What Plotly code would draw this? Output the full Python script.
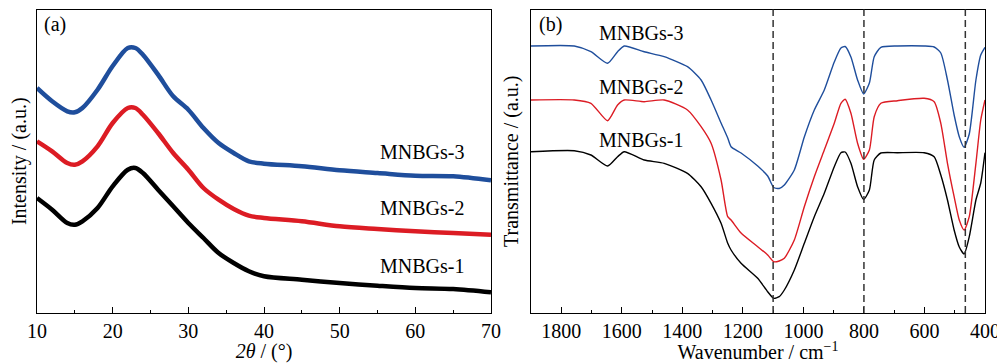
import plotly.graph_objects as go

# ---------------- (a) XRD ----------------
two_theta = [10, 12, 14, 15, 16, 18, 20, 22, 23, 24, 26, 28, 30, 32, 34, 36, 38, 40, 45, 50, 55, 60, 65, 70]
xrd_mnbgs3 = [225, 211.7, 201.7, 200.7, 205, 223.3, 247, 265, 265, 258.3, 238.3, 216.7, 203.3, 185, 170, 160, 151.7, 149.3, 146.7, 142.7, 140, 137.3, 136.7, 132.7]
xrd_mnbgs2 = [171.7, 161.7, 150, 148.3, 151.7, 166.7, 190, 205, 205, 198.3, 180, 160, 143.3, 125, 113.3, 104, 97.3, 95, 91.7, 86.7, 84, 81.7, 80, 78.3]
xrd_mnbgs1 = [115, 103.3, 90, 88.3, 91.7, 105, 126.7, 143.3, 145, 140, 123.3, 106.7, 90, 75, 60, 50, 41.7, 36.7, 33.3, 30, 27.3, 25, 24, 20.7]

# ---------------- (b) FTIR ----------------
wavenumber = [1900, 1757, 1702, 1647, 1614, 1592, 1526, 1460, 1383, 1338, 1305, 1272, 1250, 1239, 1206, 1151,
              1118, 1098, 1080, 1063, 1030, 997, 964, 931, 898, 876, 862, 843, 821, 801, 782, 766, 744, 689, 601,
              568, 546, 524, 502, 485, 469, 452, 430, 414, 400]
ftir_mnbgs3 = [267, 267, 261.3, 249.7, 261.3, 267, 261.3, 256.3, 246.3, 233, 213, 190, 175, 166.3, 160, 147,
               137, 125.5, 124.5, 128, 143, 176, 203, 223, 251, 265, 266.5, 256, 233, 219, 230, 256.3, 265.7, 267, 267,
               266, 260, 233, 198, 176.3, 165.7, 179, 233, 258, 265.7]
ftir_mnbgs2 = [213, 213, 209.7, 192.3, 208, 213, 211.3, 213, 203, 186.3, 169.7, 133, 96.3, 93, 80, 66.3,
               58, 51.3, 52, 54.7, 73, 106.3, 136.3, 163, 189.7, 209.7, 213.7, 199.7, 169.7, 153.7, 163, 196.3, 209.7,
               212.3, 214.7, 211.3, 189.7, 149.7, 116.3, 93, 83, 96.3, 149.7, 193, 213]
ftir_mnbgs1 = [161.3, 162.3, 158, 147, 156.3, 161.3, 153, 149.7, 139.7, 126.3, 109.7, 89.7, 69.7, 63, 49.7, 34.7,
               21.3, 14.7, 16.3, 23, 43, 69.7, 96.3, 119.7, 146.3, 160.3, 161, 149.7, 126.3, 113.5, 123, 153, 160,
               160.3, 160.3, 156.3, 138, 113, 83, 66, 59, 76.3, 113, 130, 160.3]
ref_lines = [1100, 800, 465]

series_names = ["MNBGs-3", "MNBGs-2", "MNBGs-1"]
colors = ["#1f4e9c", "#dc1c24", "#000000"]

FONT = "Liberation Serif, Times New Roman, serif"

# the page body adds an 8 px margin, so the figure is 8 px smaller on each axis
W, H = 997, 355
OFF = 8

fig = go.Figure()
for name, ys, c in zip(series_names, [xrd_mnbgs3, xrd_mnbgs2, xrd_mnbgs1], colors):
    fig.add_trace(go.Scatter(x=two_theta, y=ys, mode="lines", name=name,
                             line=dict(color=c, width=4.5, shape="spline", smoothing=0.9),
                             xaxis="x", yaxis="y", showlegend=False))
for name, ys, c in zip(series_names, [ftir_mnbgs3, ftir_mnbgs2, ftir_mnbgs1], colors):
    fig.add_trace(go.Scatter(x=wavenumber, y=ys, mode="lines", name=name,
                             line=dict(color=c, width=1.4, shape="spline", smoothing=0.6),
                             xaxis="x2", yaxis="y2", showlegend=False))

for w in ref_lines:
    fig.add_shape(type="line", xref="x2", yref="y2 domain", x0=w, x1=w, y0=0, y1=1,
                  line=dict(color="#333333", width=1.5, dash="7px,4px"))

axis_common = dict(showline=True, linecolor="black", linewidth=1.3, mirror=True,
                   showgrid=False, zeroline=False,
                   tickfont=dict(family=FONT, size=20, color="black"))

def xd(a, b):
    return [(a - OFF) / W, (b - OFF) / W]

ydom = [1 - (313 - OFF) / H, 1 - (9.5 - OFF) / H]

fig.update_layout(
    width=W, height=H,
    margin=dict(l=0, r=0, t=0, b=0),
    paper_bgcolor="white", plot_bgcolor="white",
    font=dict(family=FONT, size=20, color="black"),
    xaxis=dict(domain=xd(37, 491), range=[10, 70], anchor="y",
               ticks="inside", ticklen=6, tickwidth=1.2, tickcolor="black", dtick=10, tick0=10,
               minor=dict(ticks="inside", ticklen=3, tickwidth=1.2, tickcolor="black", dtick=5),
               title=dict(text="<i>2θ</i> / (°)", font=dict(family=FONT, size=20), standoff=0),
               automargin=False, **axis_common),
    yaxis=dict(domain=ydom, range=[0, 303.5], anchor="x",
               showticklabels=False, ticks="",
               title=dict(text="Intensity / (a.u.)", font=dict(family=FONT, size=20), standoff=5),
               automargin=False, **axis_common),
    xaxis2=dict(domain=xd(531, 985), range=[1900, 400], anchor="y2",
                ticks="inside", ticklen=6, tickwidth=1.2, tickcolor="black", dtick=200, tick0=400,
                minor=dict(ticks="inside", ticklen=3, tickwidth=1.2, tickcolor="black", dtick=100),
                title=dict(text="Wavenumber / cm<sup>−1</sup>", font=dict(family=FONT, size=20), standoff=0),
                automargin=False, **axis_common),
    yaxis2=dict(domain=ydom, range=[0, 303.5], anchor="x2",
                showticklabels=False, ticks="",
                title=dict(text="Transmittance / (a.u.)", font=dict(family=FONT, size=20), standoff=5),
                automargin=False, **axis_common),
)

# series labels, panel (a)
for name, y in zip(series_names, [161, 105, 47]):
    fig.add_annotation(x=55.1, y=y, xref="x", yref="y", text=name, showarrow=False,
                       xanchor="left", yanchor="middle", font=dict(family=FONT, size=20, color="black"))
# series labels, panel (b)
for name, y in zip(series_names, [280, 226, 173]):
    fig.add_annotation(x=1682, y=y, xref="x2", yref="y2", text=name, showarrow=False,
                       xanchor="left", yanchor="middle", font=dict(family=FONT, size=20, color="black"))

fig.add_annotation(x=10.6, y=288, xref="x", yref="y", text="(a)", showarrow=False,
                   xanchor="left", yanchor="middle", font=dict(family=FONT, size=20, color="black"))
fig.add_annotation(x=1880, y=288, xref="x2", yref="y2", text="(b)", showarrow=False,
                   xanchor="left", yanchor="middle", font=dict(family=FONT, size=20, color="black"))

fig.write_html("out.html")
